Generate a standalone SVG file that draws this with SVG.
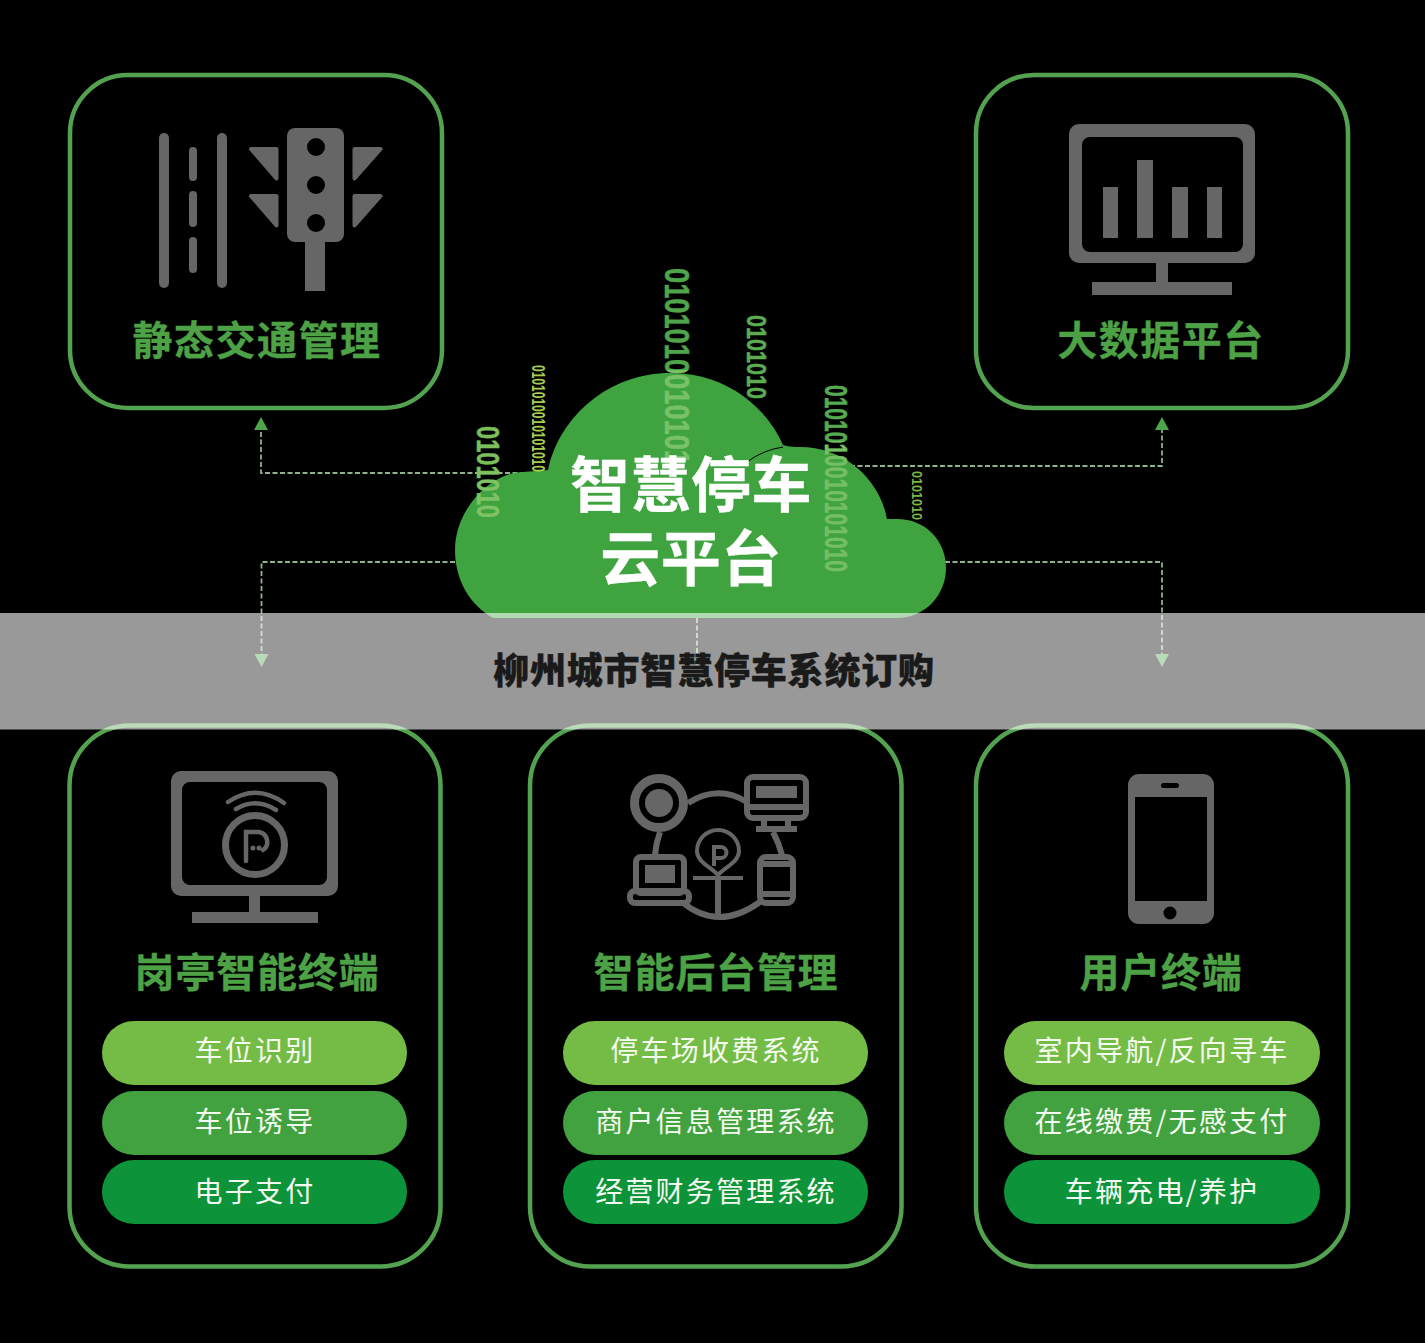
<svg xmlns="http://www.w3.org/2000/svg" width="1425" height="1343" viewBox="0 0 1425 1343">
<style>
text{font-family:"Noto Sans CJK SC","Liberation Sans",sans-serif}
.box{fill:none;stroke:#53a24f;stroke-width:4.500}
.ico{fill:#666}
.line{fill:none;stroke:#666}
.hole{fill:#000}
.ttl{font-size:40px;font-weight:700;fill:#4da245;stroke:#4da245;stroke-width:.3;text-anchor:middle;letter-spacing:1.500px}
.ttl2{letter-spacing:.8px}
.pill{font-size:28px;fill:#f4fbf0;text-anchor:middle;letter-spacing:2.200px}
.p1{fill:#75bc46}.p2{fill:#41a23f}.p3{fill:#0d9339}
.conn{fill:none;stroke:#8db48a;stroke-width:1.800;stroke-dasharray:5 2.500}
.bin{font-family:"Liberation Sans",Arial,sans-serif;font-weight:700;stroke-width:.5}
.cloudt{font-size:60px;font-weight:700;fill:#fff;stroke:#fff;stroke-width:.4;text-anchor:middle;letter-spacing:.5px}
</style>
<defs>
<marker id="arr" markerUnits="userSpaceOnUse" markerWidth="16" markerHeight="16" refX="2" refY="8" orient="auto"><path d="M2 1L15 8L2 15Z" fill="#4ea64b"/></marker>
<linearGradient id="b1"><stop offset=".52" stop-color="#4fa54a"/><stop offset=".52" stop-color="#79c168"/></linearGradient>
<linearGradient id="b2"><stop offset=".3" stop-color="#55ab50"/><stop offset=".3" stop-color="#74be63"/></linearGradient>
<linearGradient id="b3"><stop offset=".5" stop-color="#7cbf5a"/><stop offset=".5" stop-color="#7ec263"/></linearGradient>
</defs>
<rect width="1425" height="1343" fill="#000"/>
<g id="connectors">
<path class="conn" d="M525 473H261V430" marker-end="url(#arr)"/>
<path class="conn" d="M850 466H1162V430" marker-end="url(#arr)"/>
<path class="conn" d="M455 562H261.500V654" marker-end="url(#arr)"/>
<path class="conn" d="M945 562H1162V654" marker-end="url(#arr)"/>
<path class="conn" d="M697 618V665" stroke-dasharray="12 6"/>
</g>
<g id="node-static">
<rect class="box" x="70" y="75" width="372" height="333" rx="58"/>
<g class="ico">
<rect x="159" y="133" width="10" height="155" rx="5"/><rect x="217" y="133" width="10" height="155" rx="5"/>
<rect x="189" y="147" width="8" height="34" rx="4"/><rect x="189" y="191" width="8" height="36" rx="4"/><rect x="189" y="237" width="8" height="36" rx="4"/>
<rect x="287" y="128" width="57" height="114" rx="8"/><rect x="305" y="240" width="20" height="51"/>
<path stroke="#666" stroke-width="4" stroke-linejoin="round" d="M251 149H276.500V178.500ZM251 196H276.500V225.500ZM380.500 149H354.500V178.500ZM380.500 196H354.500V225.500Z"/>
</g>
<circle class="hole" cx="316" cy="147" r="9"/><circle class="hole" cx="316" cy="185" r="9"/><circle class="hole" cx="316" cy="223" r="9"/>
<text class="ttl" x="257" y="355">静态交通管理</text>
</g>
<g id="node-bigdata">
<rect class="box" x="976" y="75" width="372" height="333" rx="58"/>
<path class="ico" fill-rule="evenodd" d="M1079 124H1245A10 10 0 0 1 1255 134V253A10 10 0 0 1 1245 263H1079A10 10 0 0 1 1069 253V134A10 10 0 0 1 1079 124ZM1090 137A8 8 0 0 0 1082 145V244A8 8 0 0 0 1090 252H1235A8 8 0 0 0 1243 244V145A8 8 0 0 0 1235 137Z"/>
<g class="ico">
<rect x="1103" y="187" width="15" height="51"/><rect x="1137" y="160" width="16" height="78"/><rect x="1172" y="187" width="16" height="51"/><rect x="1207" y="187" width="15" height="51"/>
<rect x="1156" y="262" width="12" height="21"/><rect x="1092" y="282" width="140" height="13"/>
</g>
<text class="ttl" x="1161" y="355">大数据平台</text>
</g>
<g id="node-booth">
<rect class="box" x="69.500" y="725.500" width="371" height="541" rx="60"/>
<path class="ico" fill-rule="evenodd" d="M181 771H328A10 10 0 0 1 338 781V886A10 10 0 0 1 328 896H181A10 10 0 0 1 171 886V781A10 10 0 0 1 181 771ZM190 782A8 8 0 0 0 182 790V877A8 8 0 0 0 190 885H319A8 8 0 0 0 327 877V790A8 8 0 0 0 319 782Z"/>
<g class="ico"><rect x="249" y="895" width="11" height="18"/><rect x="192" y="912" width="126" height="11"/><circle cx="253" cy="848" r="2.500"/><circle cx="259" cy="848" r="2.500"/></g>
<circle class="line" stroke-width="7" cx="255" cy="845" r="29.500"/>
<path class="line" stroke-width="4.500" stroke-linecap="round" d="M228 802Q256 783 284 803M236 809Q256 797 276 810M246 861V832H259A10 10 0 0 1 263 850"/>
<text class="ttl ttl2" x="257" y="987">岗亭智能终端</text>
<rect class="p1" x="102" y="1021" width="305" height="64" rx="32"/><rect class="p2" x="102" y="1091" width="305" height="64" rx="32"/><rect class="p3" x="102" y="1160" width="305" height="64" rx="32"/>
<text class="pill" x="255" y="1061">车位识别</text><text class="pill" x="255" y="1132">车位诱导</text><text class="pill" x="255" y="1202">电子支付</text>
</g>
<g id="node-backend">
<rect class="box" x="530" y="725.500" width="371.500" height="541" rx="60"/>
<g class="line" stroke-width="6">
<path d="M688 803Q718 784 747 802M682 902Q718 932 760 902M660 832Q656 843 655 855M773 832Q779 843 782 855"/>
<circle stroke-width="9" cx="659" cy="803" r="24.500"/>
<rect x="747" y="777" width="59" height="41" rx="6"/><path d="M747 807H806M764 820V828M788 820V828"/><path d="M756 829H797"/>
<rect x="636" y="857" width="48" height="36" rx="5"/><rect x="630" y="891" width="59" height="12" rx="5"/>
<rect x="760" y="857" width="33" height="46" rx="6"/><path d="M760 864H793M760 894H793"/>
<path d="M718 876V918"/>
</g>
<g class="ico"><circle cx="659" cy="803" r="14"/><rect x="756" y="786" width="41" height="12"/><rect x="645" y="865" width="30" height="18"/></g>
<path class="line" stroke-width="4" d="M718 875C711 867 697 862 697 851A21 21 0 0 1 739 851C739 862 725 867 718 875ZM693 878H743M714 866V847H721A5.500 5.500 0 0 1 721 858H714"/>
<text class="ttl ttl2" x="716" y="987">智能后台管理</text>
<rect class="p1" x="563" y="1021" width="305" height="64" rx="32"/><rect class="p2" x="563" y="1091" width="305" height="64" rx="32"/><rect class="p3" x="563" y="1160" width="305" height="64" rx="32"/>
<text class="pill" x="716" y="1061">停车场收费系统</text><text class="pill" x="716" y="1132">商户信息管理系统</text><text class="pill" x="716" y="1202">经营财务管理系统</text>
</g>
<g id="node-user">
<rect class="box" x="976" y="725.500" width="372" height="541" rx="60"/>
<rect class="ico" x="1128" y="774" width="86" height="150" rx="11"/>
<rect class="hole" x="1135" y="797" width="72" height="104"/><rect class="hole" x="1161" y="783" width="18" height="5" rx="2.500"/><circle class="hole" cx="1170" cy="913" r="6.500"/>
<text class="ttl ttl2" x="1161" y="987">用户终端</text>
<rect class="p1" x="1004" y="1021" width="316" height="64" rx="32"/><rect class="p2" x="1004" y="1091" width="316" height="64" rx="32"/><rect class="p3" x="1004" y="1160" width="316" height="64" rx="32"/>
<text class="pill" x="1162" y="1061">室内导航/反向寻车</text><text class="pill" x="1162" y="1132">在线缴费/无感支付</text><text class="pill" x="1162" y="1202">车辆充电/养护</text>
</g>
<g id="node-cloud">
<path fill="#3fa33f" d="M493 618C470 605 455 580 455 550C455 510 490 472 523 472L548 470C560 415 610 373 670 373C725 373 765 405 783 445C790 447 795 447 800 447C845 447 880 480 887 519L897 519C925 519 946 540 946 568C946 595 925 618 897 618Z"/>
<path fill="none" stroke="#000" stroke-width="1" d="M747 462Q763 450 783 447"/>
<text class="bin" font-size="35" fill="url(#b1)" stroke="url(#b1)" transform="translate(665 268) rotate(90)" textLength="197" lengthAdjust="spacingAndGlyphs">0101010010101</text>
<text class="bin" font-size="27" fill="#5bab52" stroke="#5bab52" transform="translate(747 315) rotate(90)" textLength="84" lengthAdjust="spacingAndGlyphs">0101010</text>
<text class="bin" font-size="31" fill="url(#b2)" stroke="url(#b2)" transform="translate(825 385) rotate(90)" textLength="187" lengthAdjust="spacingAndGlyphs">0101010010101010</text>
<text class="bin" font-size="32" fill="url(#b3)" stroke="url(#b3)" transform="translate(477 426) rotate(90)" textLength="92" lengthAdjust="spacingAndGlyphs">0101010</text>
<text class="bin" font-size="19" fill="#a8cf52" transform="translate(532 365) rotate(90)" textLength="107" lengthAdjust="spacingAndGlyphs">0101010010101010</text>
<text class="bin" font-size="15" fill="#7ab648" transform="translate(912 471) rotate(90)" textLength="49" lengthAdjust="spacingAndGlyphs">0101010</text>
<text class="cloudt" x="691" y="507">智慧停车</text>
<text class="cloudt" x="691" y="581">云平台</text>
</g>
<g id="band">
<rect x="0" y="613" width="1425" height="116.500" fill="#fff" fill-opacity=".6"/>
<text x="714" y="684" font-size="36" font-weight="900" fill="#1a1a1a" stroke="#1a1a1a" stroke-width=".4" text-anchor="middle" letter-spacing=".8">柳州城市智慧停车系统订购</text>
</g>
</svg>
